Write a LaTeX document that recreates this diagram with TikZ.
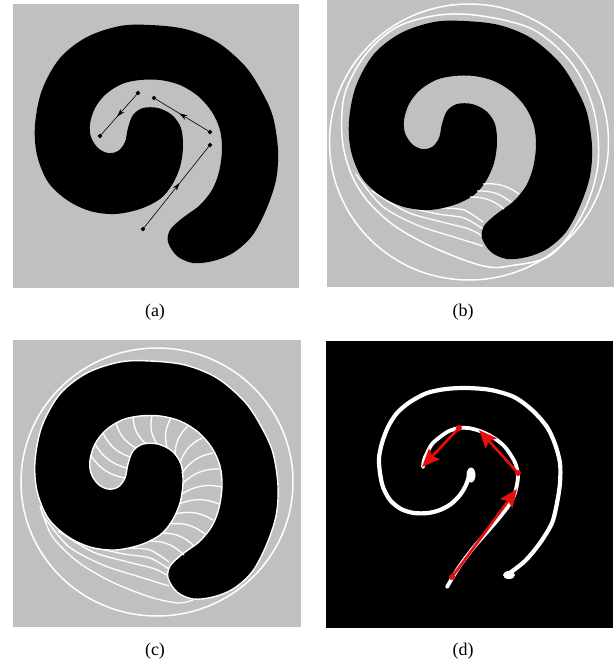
\documentclass[tikz,border=0pt]{standalone}
\usepackage{fontspec}
\setmainfont{Liberation Serif}
\usepackage{tikz}
\usetikzlibrary{arrows.meta,shapes.geometric,decorations.markings}
\definecolor{bggray}{RGB}{192,192,192}
\definecolor{arrowred}{RGB}{232,14,14}

% black spiral, in the frame of panel (a)
\newcommand{\spiralshape}{plot[smooth cycle, tension=0.55] coordinates {
  (180,220) (170,230) (168,242) (177,256) (193,263) (213,261) (233,253) (252,236)
  (266,210) (276,180) (278,150) (273,117) (262,92) (245,66) (217,42) (185,29)
  (150,25) (120,26) (87,37) (60,58) (42,90) (35,125) (37,155) (48,182) (67,200)
  (90,211) (115,214) (140,209) (160,199)
  (172,185) (180,167) (183,147) (181,128) (172,115) (158,108) (143,108) (133,115)
  (128,128) (125,142) (118,151) (108,153) (98,148) (91,137) (90,124) (95,108)
  (106,94) (122,84) (140,80) (160,80) (180,85) (198,96) (212,112) (220,130)
  (222,150) (219,172) (212,190) (200,205) (188,214)}}

% flow lines below the spiral, panels (b) and (c)
\newcommand{\bottomfan}{
  \draw[flowline] plot[smooth] coordinates {(42,178) (68,210) (103,229) (140,241) (169,250)};
  \draw[flowline] plot[smooth] coordinates {(58,195) (93,216) (128,226) (155,233) (170,241)};
  \draw[flowline] plot[smooth] coordinates {(92,211) (124,218) (150,222) (169,233)};
  \draw[flowline] plot[smooth] coordinates {(128,212) (150,214) (169,226)};
}

\begin{document}
\begin{tikzpicture}[x=1pt, y=-1pt,
    panel/.style={fill=bggray},
    flowline/.style={white, line width=1.3pt},
    rib/.style={white, line width=1.3pt},
    ring/.style={white, line width=1.5pt},
    seg/.style={black, line width=0.6pt, postaction={decorate},
                decoration={markings, mark=at position 0.55 with {\arrow{Stealth[length=8pt,width=5pt]}}}},
    endmark/.style={diamond, fill=black, inner sep=0pt, minimum size=5pt},
    skeleton/.style={white, line width=4.2pt, line cap=round, line join=round},
    redarrow/.style={-{Stealth[length=18pt,width=15pt,inset=3pt]}, arrowred, line width=2.6pt},
    reddot/.style={circle, fill=arrowred, inner sep=0pt, minimum size=6pt},
    caption/.style={font=\fontsize{18}{21}\selectfont, inner sep=0pt}
]
\useasboundingbox (0,0) rectangle (614,665);

% (a)
\fill[panel] (13,4) rectangle (299,288);
\fill[black] \spiralshape;
\node[endmark] (a1) at (138,93) {};
\node[endmark] (a2) at (100,136) {};
\node[endmark] (a3) at (210,132) {};
\node[endmark] (a4) at (154,98) {};
\node[endmark] (a5) at (143,229) {};
\node[endmark] (a6) at (210,145) {};
\draw[seg] (a1) -- (a2);
\draw[seg] (a3) -- (a4);
\draw[seg] (a5) -- (a6);
\node[caption] (capa) at (155,312) {(a)};

% (b)
\fill[panel] (327,0) rectangle (614,287);
\begin{scope}[shift={(314,-4)}]
  \draw[ring] (155,146) ellipse[x radius=139.5, y radius=138];
  \draw[ring] plot[smooth cycle, tension=0.55] coordinates {
    (195,270) (237,259) (269,217) (284,168) (280,115) (259,69) (220,34) (168,20)
    (125,19) (83,31) (52,58) (31,97) (28,140) (36,175) (52,203) (78,228) (112,248)
    (150,264) (175,271)};
  \bottomfan
  \fill[black] \spiralshape;
  \foreach \ix/\iy/\ox/\oy in {169/188/205/198, 163/195/197/206, 156/201/190/213}
    \draw[rib] (\ix,\iy) to[bend left=20] (\ox,\oy);
\end{scope}
\node[caption] (capb) at (463,312) {(b)};

% (c)
\fill[panel] (13,340) rectangle (301,627);
\begin{scope}[shift={(0,336)}]
  \draw[ring] (157,146) ellipse[x radius=136, y radius=134];
  \draw[flowline] plot[smooth] coordinates {(40,170) (52,200) (78,226) (112,246) (150,261) (178,267) (193,264)};
  \bottomfan
  \draw[black, fill=black, line width=0.1pt] \spiralshape;
  \draw[white, line width=1.4pt] \spiralshape;
  \foreach \ix/\iy/\ox/\oy in {
      125/142/91/120, 127/132/95/108, 130/121/103/97, 136/112/116/87,
      146/108/133/81, 157/108/152/80, 167/111/171/82, 175/118/188/90,
      180/127/202/102, 182/137/213/117, 183/147/220/133, 182/158/222/151,
      179/168/219/168, 175/178/213/184, 169/188/205/198, 162/197/194/210,
      150/205/184/219}
    \draw[rib] (\ix,\iy) to[bend left=22] (\ox,\oy);
\end{scope}
\node[caption] (capc) at (155,651) {(c)};

% (d)
\fill[black] (326,341) rectangle (613,628);
\begin{scope}[shift={(313,337)}]
  \draw[skeleton] plot[smooth] coordinates {
    (194,238) (212,224) (227,206) (239,186) (244,166) (247,146) (247,126) (242,107)
    (234,90) (219,73) (201,60) (178,53) (154,51) (133,52) (114,56) (97,65) (84,76)
    (75,90) (69,106) (66,121) (67,136) (70,150) (77,163) (88,172) (101,176) (115,176)
    (127,173) (138,167) (147,158) (153,148) (157,136)};
  \fill[white] (158,138) ellipse[x radius=4.5, y radius=7.5];
  \fill[white] (196,238) ellipse[x radius=6, y radius=4];
  \draw[skeleton, line width=3.8pt] plot[smooth] coordinates {
    (134,250) (146,230) (161,210) (175,194) (187,180) (196,168) (202,156) (205,140)
    (203,128) (199,120) (192,110) (184,103) (174,97) (164,93) (155,91) (146,91)
    (136,94) (127,100) (119,107) (114,116) (111,123) (110,130)};
  \node[reddot] (r1) at (139,240) {};
  \coordinate (r2) at (204,152);
  \node[reddot] (r3) at (205,136) {};
  \coordinate (r4) at (166,93);
  \node[reddot] (r5) at (146,91) {};
  \coordinate (r6) at (109,130);
  \draw[redarrow] (r1.center) -- (r2);
  \draw[redarrow] (r3.center) -- (r4);
  \draw[redarrow] (r5.center) -- (r6);
\end{scope}
\node[caption] (capd) at (463,651) {(d)};
\end{tikzpicture}
\end{document}
